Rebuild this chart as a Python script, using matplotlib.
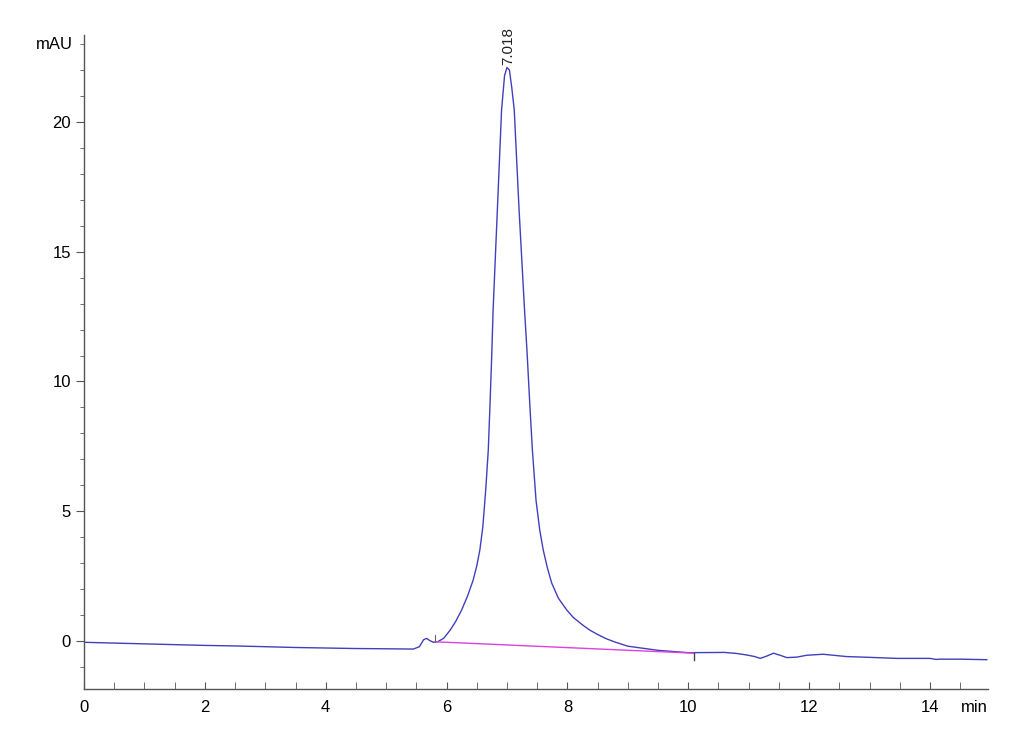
import matplotlib.pyplot as plt
from matplotlib.ticker import MultipleLocator

# chromatogram trace (min, mAU)
t = [0.0, 0.5, 1.0, 1.5, 2.0, 2.5, 3.0, 3.5, 4.0, 4.5, 5.0, 5.45, 5.55, 5.62,
     5.67, 5.72, 5.78, 5.85, 5.95, 6.06, 6.15, 6.25, 6.35, 6.44, 6.50, 6.55,
     6.60, 6.65, 6.69, 6.72, 6.75, 6.77, 6.84, 6.91, 6.96, 7.00, 7.04, 7.08,
     7.12, 7.20, 7.29, 7.33, 7.38, 7.42, 7.48, 7.54, 7.60, 7.67, 7.74, 7.85,
     7.99, 8.10, 8.25, 8.37, 8.50, 8.65, 8.80, 9.0, 9.5, 10.0, 10.6, 10.8,
     10.97, 11.1, 11.19, 11.3, 11.41, 11.52, 11.63, 11.8, 11.96, 12.23, 12.62,
     13.0, 13.45, 14.0, 14.1, 14.17, 14.5, 14.94]
mau = [-0.05, -0.08, -0.11, -0.14, -0.17, -0.19, -0.22, -0.25, -0.27, -0.29,
       -0.30, -0.31, -0.22, 0.05, 0.10, 0.02, -0.05, -0.03, 0.10, 0.42, 0.75,
       1.20, 1.75, 2.35, 2.9, 3.5, 4.4, 5.9, 7.36, 9.2, 11.2, 12.76, 16.6,
       20.46, 21.8, 22.1, 22.0, 21.3, 20.46, 16.6, 12.76, 11.21, 9.0, 7.36,
       5.43, 4.3, 3.5, 2.8, 2.23, 1.65, 1.19, 0.90, 0.62, 0.42, 0.25, 0.08,
       -0.05, -0.20, -0.36, -0.45, -0.44, -0.48, -0.54, -0.60, -0.67, -0.58,
       -0.47, -0.55, -0.64, -0.62, -0.55, -0.51, -0.60, -0.63, -0.67, -0.67,
       -0.71, -0.70, -0.70, -0.72]

# integration baseline
base_t = [5.81, 10.1]
base_y = [-0.03, -0.47]

peak_t = 7.018
peak_label = "7.018"

font = ['Liberation Sans Narrow', 'Liberation Sans', 'DejaVu Sans']
plt.rcParams['font.family'] = font

fig = plt.figure(figsize=(10.3, 7.55), dpi=100)
ax = fig.add_axes([0.0816, 0.0874, 0.8776, 0.8662])

ax.plot(t, mau, color='#4040bc', linewidth=1.0)
ax.plot(base_t, base_y, color='#e040e0', linewidth=1.0)
# baseline start/end markers
ax.plot([base_t[0], base_t[0]], [base_y[0], base_y[0] + 0.25], color='#666666', linewidth=0.8)
ax.plot([base_t[1], base_t[1]], [base_y[1], base_y[1] - 0.25], color='#444444', linewidth=1.0)

ax.text(peak_t, 22.2, peak_label, rotation=90, ha='center', va='bottom',
        fontsize=11, color='#222222')

ax.set_xlim(0, 14.96)
ax.set_ylim(-1.85, 23.35)

ax.xaxis.set_major_locator(MultipleLocator(2))
ax.xaxis.set_minor_locator(MultipleLocator(0.5))
ax.yaxis.set_major_locator(MultipleLocator(5))
ax.yaxis.set_minor_locator(MultipleLocator(1))

for s in ['top', 'right']:
    ax.spines[s].set_visible(False)
for s in ['left', 'bottom']:
    ax.spines[s].set_color('#555555')
    ax.spines[s].set_linewidth(1.0)

ax.tick_params(axis='x', which='both', direction='in', length=5, color='#555555',
               labelsize=12, pad=8)
ax.tick_params(axis='y', which='major', direction='out', length=6, color='#555555',
               labelsize=12)
ax.tick_params(axis='y', which='minor', direction='out', length=3, color='#555555')

ax.text(-0.012, 23.0, "mAU", transform=ax.get_yaxis_transform(), ha='right',
        va='center', fontsize=12)
ax.text(14.96, -2.55, "min", ha='right', va='center', fontsize=12)

fig.savefig("out.png", dpi=100)
